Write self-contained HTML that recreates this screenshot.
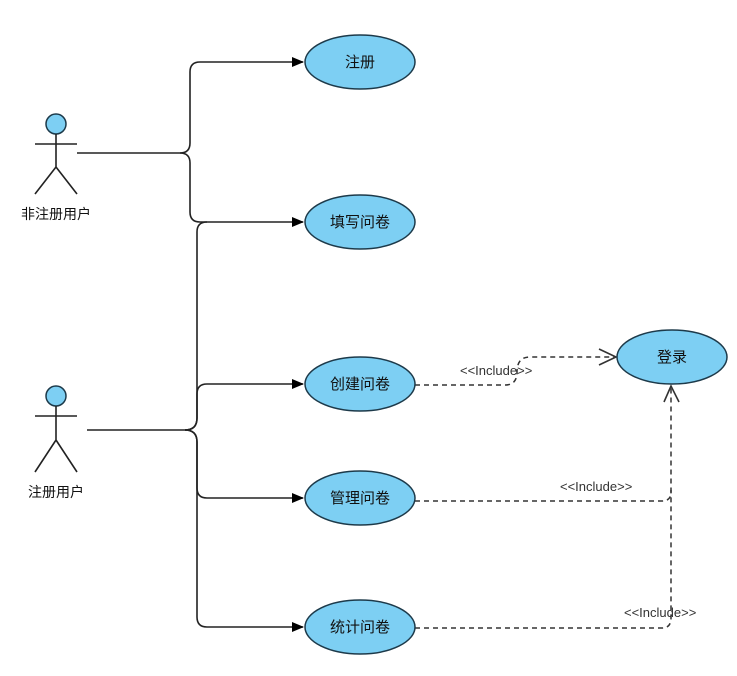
<!DOCTYPE html>
<html><head><meta charset="utf-8"><style>
body{margin:0;background:#fff;}
svg text{font-family:"Liberation Sans","Noto Sans CJK SC",sans-serif;}
</style></head><body>
<svg width="737" height="671" viewBox="0 0 737 671" xmlns="http://www.w3.org/2000/svg">
<defs>
<marker id="a" markerWidth="12" markerHeight="10" refX="11" refY="5" orient="auto" markerUnits="userSpaceOnUse">
<path d="M0,0 L12,5 L0,10 Z" fill="#000"/></marker>
</defs>
<g fill="none" stroke="#222" stroke-width="1.6">
<!-- actor1 connectors -->
<path d="M77,153 H180 Q190,153 190,143 V72 Q190,62 200,62 H303" marker-end="url(#a)"/>
<path d="M180,153 Q190,153 190,163 V212 Q190,222 200,222 H303" marker-end="url(#a)"/>
<!-- actor2 connectors -->
<path d="M87,430 H185 Q197,430 197,418 V232 Q197,222 207,222" />
<path d="M185,430 Q197,430 197,418 V394 Q197,384 207,384 H303" marker-end="url(#a)"/>
<path d="M185,430 Q197,430 197,442 V488 Q197,498 207,498 H303" marker-end="url(#a)"/>
<path d="M185,430 Q197,430 197,442 V617 Q197,627 207,627 H303" marker-end="url(#a)"/>
</g>
<g fill="none" stroke="#333" stroke-width="1.5" stroke-dasharray="5,4">
<path d="M415,385 H505 Q517,385 517,372 Q517,357 530,357 H614"/>
<path d="M415,501 H662 Q671,501 671,492 V388"/>
<path d="M415,628 H662 Q671,628 671,618 V490"/>
</g>
<g fill="none" stroke="#333" stroke-width="1.6">
<path d="M599,349 L616,357 L599,365"/>
<path d="M664,402 L671,386 L679,402"/>
</g>
<g fill="#7dcff3" stroke="#1d3a4a" stroke-width="1.5">
<ellipse cx="360" cy="62" rx="55" ry="27"/>
<ellipse cx="360" cy="222" rx="55" ry="27"/>
<ellipse cx="360" cy="384" rx="55" ry="27"/>
<ellipse cx="360" cy="498" rx="55" ry="27"/>
<ellipse cx="360" cy="627" rx="55" ry="27"/>
<ellipse cx="672" cy="357" rx="55" ry="27"/>
<circle cx="56" cy="124" r="10"/>
<circle cx="56" cy="396" r="10"/>
</g>
<g stroke="#222" stroke-width="1.6" fill="none">
<path d="M56,134 V167 M35,144 H77 M56,167 L35,194 M56,167 L77,194"/>
<path d="M56,406 V440 M35,416 H77 M56,440 L35,472 M56,440 L77,472"/>
</g>
<g font-size="15" fill="#111" text-anchor="middle">
<text x="360" y="67">注册</text>
<text x="360" y="227">填写问卷</text>
<text x="360" y="389">创建问卷</text>
<text x="360" y="503">管理问卷</text>
<text x="360" y="632">统计问卷</text>
<text x="672" y="362">登录</text>
<text x="56" y="219" font-size="14">非注册用户</text>
<text x="56" y="497" font-size="14">注册用户</text>
</g>
<g font-size="13" fill="#333">
<text x="460" y="375">&lt;&lt;Include&gt;&gt;</text>
<text x="560" y="491">&lt;&lt;Include&gt;&gt;</text>
<text x="624" y="617">&lt;&lt;Include&gt;&gt;</text>
</g>
</svg>
</body></html>
